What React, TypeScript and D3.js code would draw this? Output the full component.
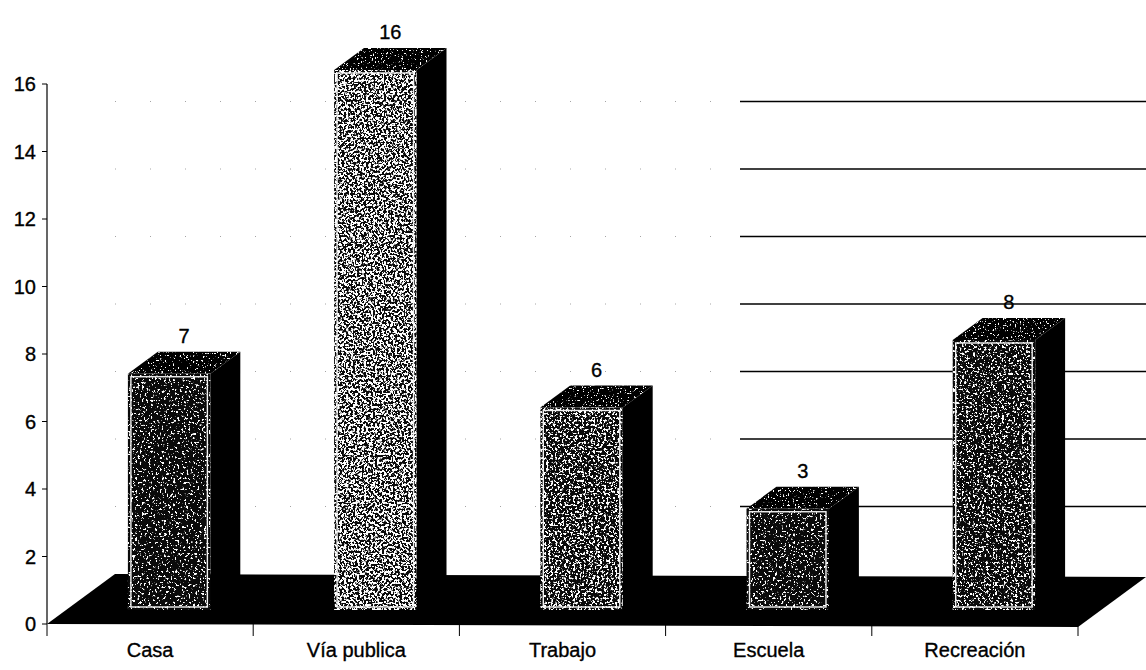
import React from "react";
import * as d3 from "d3";

// Cases by place of occurrence
const categories = ["Casa", "Vía publica", "Trabajo", "Escuela", "Recreación"];
const values = [7, 16, 6, 3, 8];
const yTicks = [0, 2, 4, 6, 8, 10, 12, 14, 16];
const gridValues = [2, 4, 6, 8, 10, 12, 14];

// speckle density of each bar's front face (higher threshold = darker face)
const faceThreshold = [0.6, 0.47, 0.53, 0.6, 0.56];

const W = 1146;
const H = 670;
const FONT = "'Liberation Sans', Arial, sans-serif";

// 3D projection of the floor depth
const DEPTH_DX = 68;
const DEPTH_DY = -50;
const BAR_FRONT = 0.28;
const BAR_BACK = 0.72;

const textStyle = { fontSize: 20, fill: "#000", stroke: "#000", strokeWidth: 0.35 };

export default function App() {
  const x = d3
    .scaleBand<string>()
    .domain(categories)
    .range([47, 1078])
    .paddingInner(0.6)
    .paddingOuter(0.3);
  const y = d3.scaleLinear().domain([0, 16]).range([624, 84]);

  const fdx = DEPTH_DX * BAR_FRONT;
  const fdy = DEPTH_DY * BAR_FRONT;
  const bdx = DEPTH_DX * (BAR_BACK - BAR_FRONT);
  const bdy = DEPTH_DY * (BAR_BACK - BAR_FRONT);

  const x0 = 47;
  const x1 = 1078;
  const y0 = y(0);
  const floor = [
    [x0, y0],
    [x1, y0 + 3],
    [x1 + DEPTH_DX, y0 + DEPTH_DY + 3],
    [x0 + DEPTH_DX, y0 + DEPTH_DY],
  ];
  const poly = (pts: number[][]) => pts.map((p) => p.join(",")).join(" ");

  const boundaries = [x0, ...categories.map((c) => (x(c) as number) + x.bandwidth() / 2 + x.step() / 2)];

  return (
    <svg
      width={W}
      height={H}
      style={{ position: "absolute", left: 0, top: 0, background: "#fff" }}
      fontFamily={FONT}
    >
      <defs>
        {categories.map((c, i) => (
          <filter
            key={c}
            id={`grain${i}`}
            x="0"
            y="0"
            width="1"
            height="1"
            colorInterpolationFilters="sRGB"
          >
            <feTurbulence type="fractalNoise" baseFrequency="0.45" numOctaves={3} seed={i * 7 + 3} result="noise" />
            <feColorMatrix
              in="noise"
              type="matrix"
              values={`0 0 0 0 1  0 0 0 0 1  0 0 0 0 1  14 0 0 0 ${-14 * faceThreshold[i]}`}
              result="speck"
            />
            <feComposite in="speck" in2="SourceAlpha" operator="in" result="clip" />
            <feMerge>
              <feMergeNode in="SourceGraphic" />
              <feMergeNode in="clip" />
            </feMerge>
          </filter>
        ))}
        <filter id="grainTop" x="0" y="0" width="1" height="1" colorInterpolationFilters="sRGB">
          <feTurbulence type="fractalNoise" baseFrequency="0.6" numOctaves={3} seed={41} result="noise" />
          <feColorMatrix
            in="noise"
            type="matrix"
            values={`0 0 0 0 1  0 0 0 0 1  0 0 0 0 1  14 0 0 0 ${-14 * 0.64}`}
            result="speck"
          />
          <feComposite in="speck" in2="SourceAlpha" operator="in" result="clip" />
          <feMerge>
            <feMergeNode in="SourceGraphic" />
            <feMergeNode in="clip" />
          </feMerge>
        </filter>
      </defs>

      {/* back wall gridlines: faint on the left, solid on the right */}
      {gridValues.map((v) => {
        const gy = y(v) + DEPTH_DY;
        return (
          <g key={v}>
            <line
              x1={x0 + DEPTH_DX}
              x2={740}
              y1={gy}
              y2={gy}
              stroke="#000"
              strokeWidth={1}
              strokeDasharray="1 34"
              opacity={0.35}
            />
            <line x1={740} x2={x1 + DEPTH_DX} y1={gy} y2={gy} stroke="#000" strokeWidth={1.3} />
          </g>
        );
      })}

      {/* floor */}
      <polygon points={poly(floor)} fill="#000" />

      {/* category axis ticks */}
      {boundaries.map((bx, i) => (
        <line key={i} x1={bx} x2={bx} y1={y0} y2={y0 + 12} stroke="#000" strokeWidth={1} />
      ))}

      {/* bars */}
      {categories.map((c, i) => {
        const v = values[i];
        const left = (x(c) as number) + fdx;
        const right = left + x.bandwidth();
        const top = y(v) + fdy;
        const bottom = y0 + fdy;
        const top3 = [
          [left, top],
          [right, top],
          [right + bdx, top + bdy],
          [left + bdx, top + bdy],
        ];
        const side = [
          [right, top],
          [right + bdx, top + bdy],
          [right + bdx, bottom + bdy],
          [right, bottom],
        ];
        return (
          <g key={c}>
            <polygon points={poly(side)} fill="#000" />
            <polygon points={poly(top3)} fill="#000" filter="url(#grainTop)" />
            <rect
              x={left}
              y={top}
              width={right - left}
              height={bottom - top}
              fill="#0a0a0a"
              filter={`url(#grain${i})`}
            />
            <rect
              x={left + 3}
              y={top + 3}
              width={right - left - 6}
              height={bottom - top - 6}
              fill="none"
              stroke="#f2f2f2"
              strokeWidth={1.4}
            />
            <text
              x={(x(c) as number) + x.bandwidth() / 2 + DEPTH_DX * 0.5}
              y={y(v) + DEPTH_DY * BAR_BACK - 9}
              textAnchor="middle"
              style={textStyle}
            >
              {v}
            </text>
          </g>
        );
      })}

      {/* value axis */}
      <line x1={x0} x2={x0} y1={y(0)} y2={y(16)} stroke="#000" strokeWidth={1.2} />
      {yTicks.map((t) => (
        <g key={t}>
          <line x1={x0 - 5} x2={x0} y1={y(t)} y2={y(t)} stroke="#000" strokeWidth={1} />
          <text x={x0 - 11} y={y(t)} dy="0.36em" textAnchor="end" style={textStyle}>
            {t}
          </text>
        </g>
      ))}

      {/* category labels */}
      {categories.map((c) => (
        <text
          key={c}
          x={(x(c) as number) + x.bandwidth() / 2}
          y={657}
          textAnchor="middle"
          style={textStyle}
        >
          {c}
        </text>
      ))}
    </svg>
  );
}
